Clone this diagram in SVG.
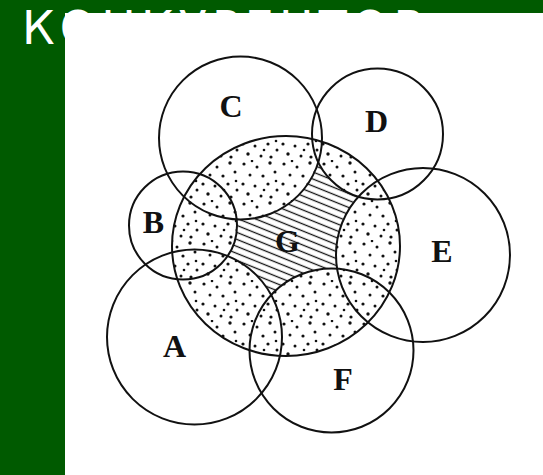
<svg xmlns="http://www.w3.org/2000/svg" width="543" height="475" viewBox="0 0 543 475">
<style>
.ring{fill:none;stroke:#111;stroke-width:2}
.lbl{font-family:"Liberation Serif","Times New Roman",serif;font-weight:bold;font-size:32px;fill:#111;text-anchor:middle}
.title{font-family:"DejaVu Sans","Noto Sans",sans-serif;font-size:46px;fill:#fff}
</style>
<defs>
<pattern id="dots" width="40" height="40" patternUnits="userSpaceOnUse">
<rect width="40" height="40" fill="#fff"/>
<g fill="#111">
<circle cx="4" cy="4" r="1.6"/><circle cx="17" cy="7" r="1.5"/><circle cx="30" cy="3" r="1.7"/>
<circle cx="10" cy="15" r="1.5"/><circle cx="23" cy="16" r="1.6"/><circle cx="35" cy="12" r="1.5"/>
<circle cx="3" cy="24" r="1.6"/><circle cx="15" cy="26" r="1.5"/><circle cx="28" cy="24" r="1.6"/>
<circle cx="37" cy="30" r="1.5"/><circle cx="8" cy="34" r="1.7"/><circle cx="21" cy="36" r="1.5"/>
<circle cx="31" cy="37" r="1.6"/><circle cx="24" cy="30" r="1.3"/><circle cx="36" cy="21" r="1.3"/>
<circle cx="12" cy="1" r="1.3"/>
</g>
</pattern>
<pattern id="hatch" width="12" height="6.5" patternUnits="userSpaceOnUse" patternTransform="rotate(22)">
<rect width="12" height="6.5" fill="#fff"/>
<line x1="0" y1="3.25" x2="12" y2="3.25" stroke="#111" stroke-width="1.3"/>
</pattern>
<clipPath id="gclip"><ellipse cx="286" cy="246" rx="114" ry="110"/></clipPath>
</defs>
<rect width="543" height="475" fill="#005a00"/>
<text class="title" x="22" y="44" textLength="403" lengthAdjust="spacing">КОНКУРЕНТОВ</text>
<rect x="65" y="13" width="478" height="462" fill="#fff"/>
<g id="shading">
<ellipse cx="286" cy="246" rx="114" ry="110" fill="url(#hatch)"/>
<g clip-path="url(#gclip)" fill="url(#dots)">
<circle cx="194.5" cy="337" r="87.5"/>
<circle cx="183" cy="225.5" r="54"/>
<circle cx="240.5" cy="138" r="81.5"/>
<circle cx="377.5" cy="134" r="65.5"/>
<circle cx="423" cy="255" r="87"/>
<circle cx="331.5" cy="350.5" r="82"/>
</g>
</g>
<g id="G"><ellipse class="ring" cx="286" cy="246" rx="114" ry="110"/><text class="lbl" x="287.5" y="252">G</text></g>
<g id="A"><circle class="ring" cx="194.5" cy="337" r="87.5"/><text class="lbl" x="174.5" y="357">A</text></g>
<g id="B"><circle class="ring" cx="183" cy="225.5" r="54"/><text class="lbl" x="153.5" y="233">B</text></g>
<g id="C"><circle class="ring" cx="240.5" cy="138" r="81.5"/><text class="lbl" x="231" y="117">C</text></g>
<g id="D"><circle class="ring" cx="377.5" cy="134" r="65.5"/><text class="lbl" x="376.5" y="132">D</text></g>
<g id="E"><circle class="ring" cx="423" cy="255" r="87"/><text class="lbl" x="442" y="262">E</text></g>
<g id="F"><circle class="ring" cx="331.5" cy="350.5" r="82"/><text class="lbl" x="343" y="390">F</text></g>
<g id="connectors"/>
</svg>
